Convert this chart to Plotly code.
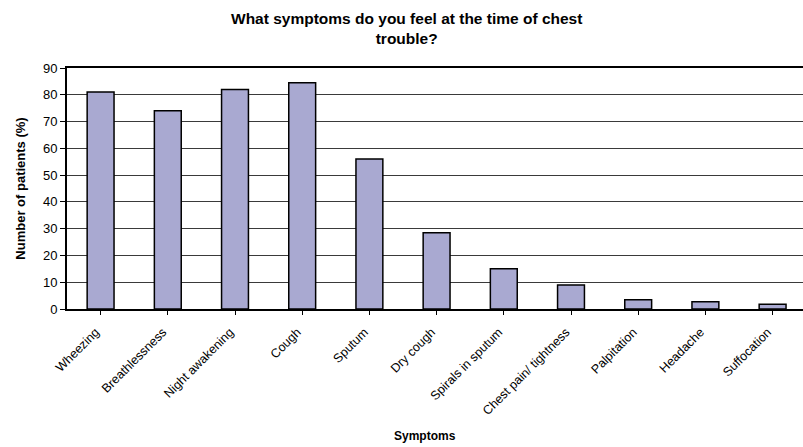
import plotly.graph_objects as go

# Survey results: share of patients reporting each symptom during chest trouble
symptoms = [
    "Wheezing", "Breathlessness", "Night awakening", "Cough", "Sputum",
    "Dry cough", "Spirals in sputum", "Chest pain/ tightness", "Palpitation",
    "Headache", "Suffocation",
]
patients_pct = [81, 74, 82, 84.5, 56, 28.5, 15, 9, 3.5, 2.7, 1.8]
y_ticks = [0, 10, 20, 30, 40, 50, 60, 70, 80, 90]

W, H = 803, 447
ML, MR, MT, MB = 67, 0, 68, 138
cat_px = 67.2  # pixel width of one category slot
plot_w = W - ML - MR
plot_h = H - MT - MB

FONT = "Arial, Liberation Sans, sans-serif"


def px_x(x):
    return (x - ML) / plot_w


def px_y(y):
    return (H - MB - y) / plot_h


fig = go.Figure(
    go.Bar(
        x=list(range(len(symptoms))),
        y=patients_pct,
        marker=dict(color="#A9A9D1", line=dict(color="#000000", width=1.5)),
        width=0.4,
    )
)

fig.update_layout(
    width=W,
    height=H,
    margin=dict(l=ML, r=MR, t=MT, b=MB),
    paper_bgcolor="white",
    plot_bgcolor="white",
    showlegend=False,
    font=dict(family=FONT, color="#000000", size=13),
    annotations=[
        dict(
            text="<b>What symptoms do you feel at the time of chest<br>trouble?</b>",
            xref="paper", yref="paper",
            x=px_x(406), y=px_y(29),
            xanchor="center", yanchor="middle",
            showarrow=False,
            font=dict(family=FONT, size=15.5, color="#000000"),
        ),
        dict(
            text="<b>Symptoms</b>",
            xref="paper", yref="paper",
            x=px_x(425), y=px_y(436),
            xanchor="center", yanchor="middle",
            showarrow=False,
            font=dict(family=FONT, size=12, color="#000000"),
        ),
    ],
)

fig.update_xaxes(
    range=[-0.5, -0.5 + plot_w / cat_px],
    tickmode="array",
    tickvals=list(range(len(symptoms))),
    ticktext=symptoms,
    tickangle=-45,
    tickson="boundaries",
    ticks="outside",
    ticklen=4,
    tickcolor="#000000",
    ticklabelstandoff=5,
    ticklabelshift=-5,
    showline=True,
    linecolor="#000000",
    linewidth=2,
    mirror=True,
    showgrid=False,
    zeroline=False,
    tickfont=dict(family=FONT, size=12.5, color="#000000"),
)

fig.update_yaxes(
    range=[0, 90],
    tickmode="array",
    tickvals=y_ticks,
    ticks="outside",
    ticklen=5,
    tickcolor="#000000",
    showline=True,
    linecolor="#000000",
    linewidth=2,
    showgrid=True,
    gridcolor="#3a3a3a",
    gridwidth=1,
    zeroline=False,
    tickfont=dict(family=FONT, size=13, color="#000000"),
    title=dict(
        text="Number of patients (%)",
        font=dict(family=FONT, size=13, color="#000000", weight="bold"),
        standoff=14,
    ),
)

fig.write_html("out.html")
